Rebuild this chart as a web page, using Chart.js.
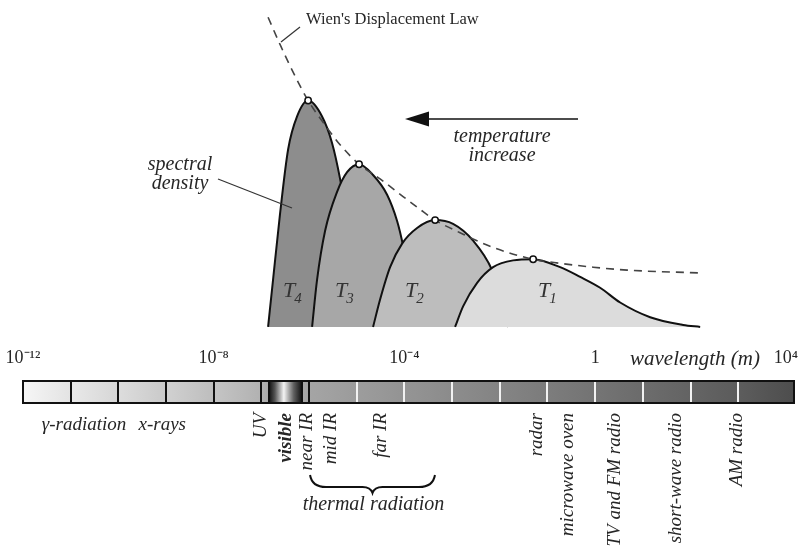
<!DOCTYPE html>
<html>
<head>
<meta charset="utf-8">
<script src="https://cdn.jsdelivr.net/npm/chart.js@4.4.1/dist/chart.umd.min.js"></script>
<style>
  html, body { margin: 0; padding: 0; background: #ffffff; }
  canvas { display: block; }
</style>
</head>
<body>
<canvas id="spectrum" width="812" height="552"></canvas>
<script>
// Wavelengths are kept as base-10 exponents (metres); spectral density in arbitrary units.

// Black-body curves, hottest (T4) to coolest (T1)
const t4Exp = [-6.86, -6.756, -6.61, -6.44, -6.25, -6.02, -5.73, -5.52, -5.35, -5.22, -5.10, -4.97];
const t4Density = [0, 20.8, 49.8, 78.4, 93.1, 100, 93.1, 81.4, 65.4, 48.9, 27.3, 0];

const t3Exp = [-5.937, -5.833, -5.665, -5.413, -5.203, -4.952, -4.658, -4.364, -4.154, -4.029, -3.882, -3.756];
const t3Density = [0, 20.8, 42.4, 59.7, 68.4, 71.9, 67.1, 58.4, 46.8, 35.9, 18.6, 0];

const t2Exp = [-4.658, -4.511, -4.301, -4.049, -3.735, -3.357, -2.980, -2.560, -2.162, -1.994, -1.826];
const t2Density = [0, 12.1, 26.4, 36.8, 43.7, 47.2, 45.5, 38.1, 25.1, 14.3, 0];

const t1Exp = [-2.938, -2.770, -2.476, -2.141, -1.721, -1.301, -0.735, -0.315, 0.104, 0.524, 1.153, 1.845, 2.202];
const t1Density = [0, 9.1, 19.5, 26.4, 29.4, 29.9, 26.4, 22.1, 17.3, 10.8, 4.3, 0.9, 0];

// Locus of the peaks (Wien's displacement law)
const wienExp = [-6.86, -6.588, -6.294, -6.02, -5.665, -5.35, -4.952, -4.511, -4.029, -3.672, -3.357, -2.833, -2.141, -1.301, -0.735, -0.043, 0.670, 2.265];
const wienDensity = [136.8, 123.8, 110.8, 100, 89.2, 80.5, 71.9, 65.4, 57.6, 51.9, 47.2, 41.6, 35.1, 29.9, 28.1, 26.4, 25.1, 23.8];

// Peak of each curve
const peakNames = ['T4', 'T3', 'T2', 'T1'];
const peakExp = [-6.02, -4.952, -3.357, -1.301];
const peakDensity = [100, 71.9, 47.2, 29.9];

// Wavelength axis
const tickExp = [-12, -8, -4, 0, 4];
const tickText = ['10\u207B\u00B9\u00B2', '10\u207B\u2078', '10\u207B\u2074', '1', '10\u2074'];
const axisMinExp = -12;
const axisMaxExp = 4.17;

// Bands of the electromagnetic spectrum (edges as exponents)
const bandEdges = [-12, -11, -10, -9, -8, -7, -6.84, -6.15, -6, -5, -4, -3, -2, -1, 0, 1, 2, 3, 4.17];
const visibleBand = 6;      // index of the band drawn as the visible light strip
const lastBlackEdge = 8;    // edges up to this one are drawn as black dividers

// Band names under the strip
const flatNames = ['\u03B3-radiation', 'x-rays'];
const flatExp = [-10.72, -9.08];
const uprightNames = ['UV', 'visible', 'near IR', 'mid IR', 'far IR', 'radar', 'microwave oven', 'TV and FM radio', 'short-wave radio', 'AM radio'];
const uprightExp = [-7.01, -6.48, -6.04, -5.54, -4.49, -1.21, -0.56, 0.42, 1.70, 2.97];
const thermalRange = [-5.98, -3.36];

// ---- styling ----
const SERIF = "'Liberation Serif', 'Times New Roman', serif";
const INK = '#262626';
const bandShades = [
  ['#f6f6f6', '#e3e3e3'], ['#e9e9e9', '#d6d6d6'], ['#dddddd', '#c9c9c9'],
  ['#d1d1d1', '#bdbdbd'], ['#c5c5c5', '#b1b1b1'], ['#b3b3b3', '#a9a9a9'],
  null, ['#a9a9a9', '#a3a3a3'],
  ['#a5a5a5', '#9b9b9b'], ['#9d9d9d', '#939393'], ['#959595', '#8b8b8b'],
  ['#8d8d8d', '#838383'], ['#858585', '#7b7b7b'], ['#7d7d7d', '#737373'],
  ['#757575', '#6b6b6b'], ['#6d6d6d', '#636363'], ['#656565', '#5b5b5b'],
  ['#5d5d5d', '#4d4d4d']
];

const toPoints = (xs, ys) => xs.map((e, i) => ({ x: Math.pow(10, e), y: ys[i] }));

function curveDataset(label, xs, ys, fillColor, order) {
  return {
    label,
    data: toPoints(xs, ys),
    borderColor: '#111111',
    borderWidth: 2,
    backgroundColor: fillColor,
    fill: 'origin',
    pointRadius: 0,
    cubicInterpolationMode: 'monotone',
    order
  };
}

// Annotations, labels and the spectrum strip
const decorations = {
  id: 'decorations',
  afterDraw(chart) {
    const { ctx } = chart;
    const xs = chart.scales.x;
    const px = e => xs.getPixelForValue(Math.pow(10, e));
    ctx.save();

    // --- spectrum strip ---
    const top = 381, bottom = 403;
    for (let i = 0; i < bandEdges.length - 1; i++) {
      const a = px(bandEdges[i]), b = px(bandEdges[i + 1]);
      const g = ctx.createLinearGradient(a, 0, b, 0);
      if (i === visibleBand) {
        g.addColorStop(0, '#101010');
        g.addColorStop(0.18, '#555555');
        g.addColorStop(0.45, '#f4f4f4');
        g.addColorStop(0.75, '#606060');
        g.addColorStop(1, '#101010');
      } else {
        g.addColorStop(0, bandShades[i][0]);
        g.addColorStop(1, bandShades[i][1]);
      }
      ctx.fillStyle = g;
      ctx.fillRect(a, top, b - a, bottom - top);
    }
    // dividers
    for (let i = 1; i < bandEdges.length - 1; i++) {
      const x = Math.round(px(bandEdges[i]));
      ctx.beginPath();
      ctx.moveTo(x, top);
      ctx.lineTo(x, bottom);
      ctx.strokeStyle = i <= lastBlackEdge ? '#111111' : '#f2f2f2';
      ctx.lineWidth = 2;
      ctx.stroke();
    }
    ctx.strokeStyle = '#111111';
    ctx.lineWidth = 2;
    ctx.strokeRect(px(bandEdges[0]), top, px(bandEdges[bandEdges.length - 1]) - px(bandEdges[0]), bottom - top);

    // --- axis name ---
    ctx.fillStyle = INK;
    ctx.font = `italic 21px ${SERIF}`;
    ctx.textAlign = 'center';
    ctx.textBaseline = 'alphabetic';
    ctx.fillText('wavelength (m)', 695, 365);

    // --- band names ---
    ctx.font = `italic 19px ${SERIF}`;
    flatNames.forEach((n, i) => ctx.fillText(n, px(flatExp[i]), 430));
    uprightNames.forEach((n, i) => {
      ctx.save();
      ctx.translate(px(uprightExp[i]), 413);
      ctx.rotate(-Math.PI / 2);
      ctx.font = (n === 'visible' ? 'italic bold 19px ' : 'italic 19px ') + SERIF;
      ctx.textAlign = 'right';
      ctx.textBaseline = 'middle';
      ctx.fillText(n, 0, 0);
      ctx.restore();
    });

    // --- thermal radiation brace ---
    const bl = px(thermalRange[0]), br = px(thermalRange[1]);
    const bm = (bl + br) / 2;
    ctx.beginPath();
    ctx.moveTo(bl, 475);
    ctx.quadraticCurveTo(bl + 2, 487, bl + 16, 487);
    ctx.lineTo(bm - 10, 487);
    ctx.quadraticCurveTo(bm - 2, 487, bm, 493);
    ctx.quadraticCurveTo(bm + 2, 487, bm + 10, 487);
    ctx.lineTo(br - 16, 487);
    ctx.quadraticCurveTo(br - 2, 487, br, 475);
    ctx.strokeStyle = '#111111';
    ctx.lineWidth = 2;
    ctx.stroke();
    ctx.font = `italic 20px ${SERIF}`;
    ctx.textAlign = 'center';
    ctx.fillText('thermal radiation', bm + 1, 510);

    // --- curve names ---
    const curveNames = [['T', '4', 283], ['T', '3', 335], ['T', '2', 405], ['T', '1', 538]];
    curveNames.forEach(([t, s, x]) => {
      ctx.textAlign = 'left';
      ctx.font = `italic 22px ${SERIF}`;
      ctx.fillStyle = '#333333';
      ctx.fillText(t, x, 297);
      const w = ctx.measureText(t).width;
      ctx.font = `italic 15px ${SERIF}`;
      ctx.fillText(s, x + w - 1, 303);
    });

    // --- Wien's law label ---
    ctx.fillStyle = INK;
    ctx.font = `16.5px ${SERIF}`;
    ctx.textAlign = 'left';
    ctx.fillText("Wien's Displacement Law", 306, 24);
    ctx.beginPath();
    ctx.moveTo(300, 27);
    ctx.lineTo(281, 42);
    ctx.strokeStyle = '#333333';
    ctx.lineWidth = 1.2;
    ctx.stroke();

    // --- spectral density label ---
    ctx.font = `italic 20px ${SERIF}`;
    ctx.textAlign = 'center';
    ctx.fillText('spectral', 180, 170);
    ctx.fillText('density', 180, 189);
    ctx.beginPath();
    ctx.moveTo(218, 179);
    ctx.lineTo(292, 208);
    ctx.stroke();

    // --- temperature increase arrow ---
    ctx.beginPath();
    ctx.moveTo(578, 119);
    ctx.lineTo(425, 119);
    ctx.strokeStyle = '#111111';
    ctx.lineWidth = 1.5;
    ctx.stroke();
    ctx.beginPath();
    ctx.moveTo(405, 119);
    ctx.lineTo(429, 111.5);
    ctx.lineTo(429, 126.5);
    ctx.closePath();
    ctx.fillStyle = '#111111';
    ctx.fill();
    ctx.fillStyle = INK;
    ctx.fillText('temperature', 502, 142);
    ctx.fillText('increase', 502, 161);

    ctx.restore();
  }
};

new Chart(document.getElementById('spectrum'), {
  type: 'line',
  data: {
    datasets: [
      {
        label: 'peaks',
        data: toPoints(peakExp, peakDensity),
        showLine: false,
        pointRadius: 3.2,
        pointBackgroundColor: '#ffffff',
        pointBorderColor: '#111111',
        pointBorderWidth: 1.5,
        order: 0
      },
      {
        label: "Wien's Displacement Law",
        data: toPoints(wienExp, wienDensity),
        borderColor: '#444444',
        borderWidth: 1.6,
        borderDash: [8, 6],
        pointRadius: 0,
        fill: false,
        cubicInterpolationMode: 'monotone',
        order: 1
      },
      curveDataset('T1', t1Exp, t1Density, '#dcdcdc', 2),
      curveDataset('T2', t2Exp, t2Density, '#bdbdbd', 3),
      curveDataset('T3', t3Exp, t3Density, '#a7a7a7', 4),
      curveDataset('T4', t4Exp, t4Density, '#8d8d8d', 5)
    ]
  },
  options: {
    responsive: false,
    animation: false,
    devicePixelRatio: 1,
    events: [],
    layout: { padding: { left: 23, right: 18, top: 0, bottom: 0 } },
    plugins: { legend: { display: false }, tooltip: { enabled: false } },
    scales: {
      x: {
        type: 'logarithmic',
        min: Math.pow(10, axisMinExp),
        max: Math.pow(10, axisMaxExp),
        position: { y: -9.1 },
        grid: { display: false, drawTicks: false },
        border: { display: false },
        afterBuildTicks: scale => { scale.ticks = tickExp.map(e => ({ value: Math.pow(10, e) })); },
        ticks: {
          autoSkip: false,
          maxRotation: 0,
          padding: 0,
          color: INK,
          font: { family: SERIF, size: 18 },
          callback: value => {
            const i = tickExp.findIndex(e => Math.abs(Math.log10(value) - e) < 1e-6);
            return i >= 0 ? tickText[i] : '';
          }
        }
      },
      y: {
        type: 'linear',
        min: -97,
        max: 142,
        display: false
      }
    }
  },
  plugins: [decorations]
});
</script>
</body>
</html>
